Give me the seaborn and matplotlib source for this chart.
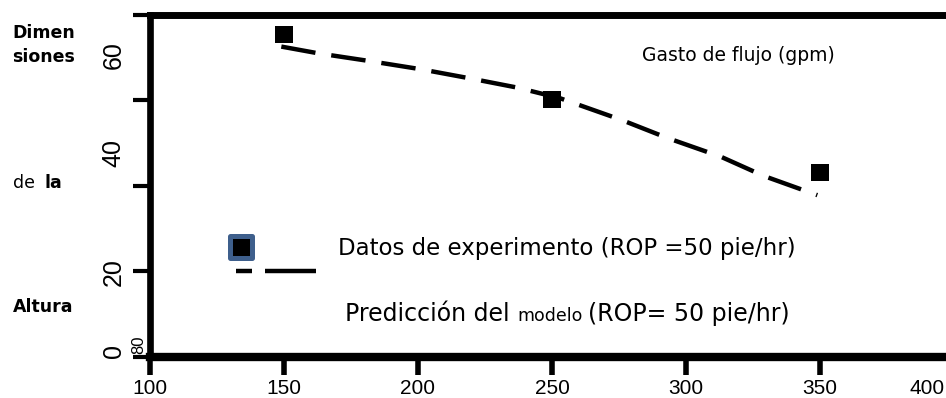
import matplotlib
matplotlib.use("Agg")
import matplotlib.pyplot as plt
import seaborn as sns
from matplotlib.lines import Line2D
from matplotlib.markers import MarkerStyle
from matplotlib.transforms import ScaledTranslation

# ---- data ----
exp_x = [150, 250, 350]
exp_y = [75.5, 60.3, 43.2]
model_x = [149, 163, 181, 201, 219, 237, 253, 276, 293, 313, 329, 349]
model_y = [72.6, 71.0, 69.3, 67.3, 65.2, 63.0, 60.5, 55.4, 51.2, 46.8, 42.3, 37.8]
x_ticks = [100, 150, 200, 250, 300, 350, 400]
x_tick_labels = ["100", "150", "200", "250", "300", "350", "400"]
y_ticks = [0, 20, 40, 60, 80]
y_tick_labels = ["0", "20", "40", "60", "80"]
label_exp = "Datos de experimento (ROP =50 pie/hr)"
label_model = ["Predicción del", "modelo", "(ROP= 50 pie/hr)"]
x_title = "Gasto de flujo (gpm)"

sns.set_theme(style="ticks")
plt.rcParams["font.family"] = ["DejaVu Sans"]
plt.rcParams["text.color"] = "black"

W, H = 946, 398
fig = plt.figure(figsize=(W / 100, H / 100), dpi=100)
fig.patch.set_facecolor("white")
# axes extends slightly past the right edge of the figure, as in the reference
ax = fig.add_axes([150 / W, 1 - 356.5 / H, (954 - 150) / W, (356.5 - 15) / H])
ax.set_facecolor("white")

sns.lineplot(x=model_x, y=model_y, color="black", lw=3.2, ax=ax)
ax.lines[-1].set_dashes((7.8, 3.6))
ax.lines[-1].set_solid_capstyle("butt")
sns.scatterplot(x=exp_x, y=exp_y, marker="s", s=150, color="black",
                edgecolor="none", ax=ax, zorder=3)

ax.set_xlim(100, 400)
ax.set_ylim(0, 80)
ax.set_xlabel("")
ax.set_ylabel("")
ax.set_xticks(x_ticks, x_tick_labels)
ax.set_yticks(y_ticks, y_tick_labels)

for side in ["top", "left", "bottom"]:
    ax.spines[side].set_color("black")
ax.spines["top"].set_linewidth(5)
ax.spines["left"].set_linewidth(4.8)
ax.spines["bottom"].set_linewidth(6)
ax.spines["right"].set_visible(False)

ax.tick_params(axis="x", direction="out", length=13, width=4, pad=3,
               labelsize=15, colors="black")
ax.tick_params(axis="y", direction="out", length=12, width=3, pad=5.5,
               labelsize=18, colors="black", labelrotation=90)
for lab in ax.get_xticklabels():
    lab.set_fontfamily("Liberation Sans")
last = ax.get_xticklabels()[-1]
last.set_ha("right")
last.set_transform(last.get_transform()
                   + ScaledTranslation(-9 / 100, 0, fig.dpi_scale_trans))

# y tick labels are displaced in the reference
offsets = [(0, 3), (0, 4), (0, 37), (0, 50), (21, -326)]
for lab, (dx, dy) in zip(ax.get_yticklabels(), offsets):
    lab.set_fontfamily("Liberation Sans")
    lab.set_transform(lab.get_transform()
                      + ScaledTranslation(dx / 100, dy / 100, fig.dpi_scale_trans))
ax.get_yticklabels()[-1].set_fontsize(12)


def fx(x):
    return x / W


def fy(y):
    return 1 - y / H


# left-side axis title pieces
fig.text(fx(12.5), fy(37.7), "Dimen", fontsize=12.5, fontweight="bold", va="baseline")
fig.text(fx(12.5), fy(61.7), "siones", fontsize=12.5, fontweight="bold", va="baseline")
fig.text(fx(12.5), fy(188.5), "de", fontsize=12.5, va="baseline")
fig.text(fx(45), fy(188.5), "la", fontsize=12.5, fontweight="bold", va="baseline")
fig.text(fx(12.5), fy(312), "Altura", fontsize=12.5, fontweight="bold", va="baseline")

# x title inside the plot
fig.text(fx(641.5), fy(60.7), x_title, fontsize=13.5, va="baseline")

# legend-like elements
fig.add_artist(Line2D([fx(240.5)], [fy(247.5)],
                      marker=MarkerStyle("s", joinstyle="round"),
                      markersize=16.5, markerfacecolor="black",
                      markeredgecolor="#3e5f8c", markeredgewidth=3.6,
                      linestyle="none"))
fig.add_artist(Line2D([fx(236), fx(252)], [fy(270.5), fy(270.5)], lw=3.2,
                      color="black", solid_capstyle="butt"))
fig.add_artist(Line2D([fx(265), fx(316)], [fy(271), fy(271)], lw=3.2,
                      color="black", solid_capstyle="butt"))

fig.text(fx(338), fy(255), label_exp, fontsize=16.5, va="baseline")

renderer = fig.canvas.get_renderer()
sizes = [17, 12.5, 17]
x = 345
for piece, size in zip(label_model, sizes):
    t = fig.text(fx(x), fy(321), piece, fontsize=size, va="baseline")
    bb = t.get_window_extent(renderer=renderer)
    x = bb.x1 + size * 100 / 72 * 0.318

fig.savefig("out.png", dpi=100, facecolor="white")
